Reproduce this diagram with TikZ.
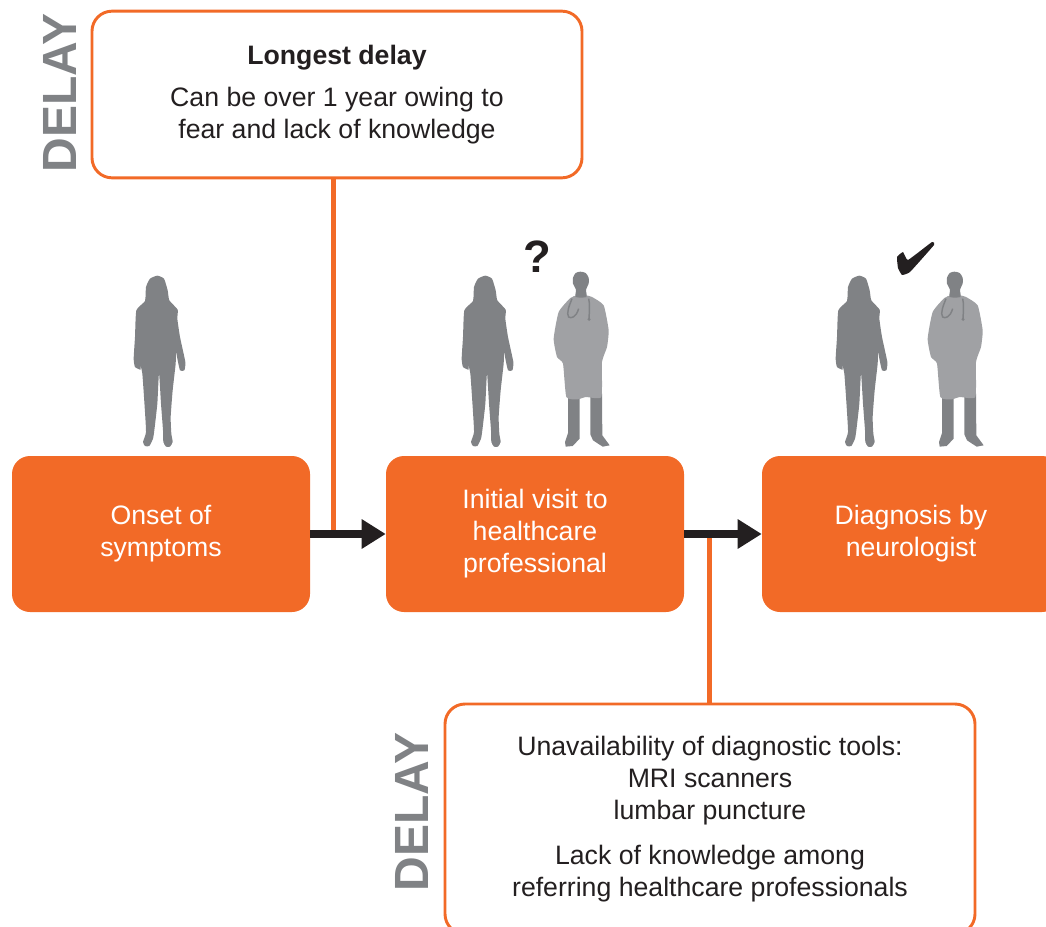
\documentclass[tikz,border=0pt]{standalone}
\usepackage{fontspec}
\setmainfont{Liberation Sans}
\usetikzlibrary{positioning}
\usetikzlibrary{arrows.meta}
\definecolor{delayorange}{HTML}{F26A27}
\definecolor{delaygray}{HTML}{808285}
\definecolor{womangray}{HTML}{808285}
\definecolor{coatgray}{HTML}{A0A1A4}
\definecolor{markblack}{HTML}{231F20}
\tikzset{
  stagebox/.style={rectangle,rounded corners=13.5pt,fill=delayorange,text=white,align=center,
    minimum width=223.5pt,minimum height=117pt,inner sep=0pt,font=\fontsize{20}{24}\selectfont},
  notebox/.style={rectangle,rounded corners=15pt,draw=delayorange,line width=2.2pt,fill=white,text=markblack,
    align=center,inner sep=0pt,font=\fontsize{20}{24}\selectfont},
  delaylabel/.style={rotate=90,text=delaygray,inner sep=0pt,font=\fontsize{36}{36}\selectfont\bfseries},
  stemline/.style={delayorange,line width=3.75pt},
  stagearrow/.style={markblack,line width=6.5pt,-{Triangle[length=18pt,width=21pt]}}
}
% woman and doctor are traced at three times their size, the origin is between the feet
\newcommand{\womanfig}[2]{%
\begin{scope}[shift={(#1,#2)},scale=1/3]
 \fill[womangray] plot[smooth cycle,tension=0.3] coordinates {(-8,-514)(12,-505)(23,-470)(28,-440)(53,-412)(52,-385)(60,-330)(76,-255)(73,-230)(60,-230)(52,-265)(48,-285)(47,-250)(38,-170)(32,-90)(34,-40)(38,-15)(30,-1)(18,-1)(10,-15)(9,-50)(3,-130)(-3,-222)(-8,-130)(-17,-50)(-21,-25)(-32,-3)(-45,-3)(-51,-15)(-42,-45)(-46,-120)(-53,-220)(-60,-250)(-58,-232)(-75,-240)(-79,-265)(-75,-330)(-71,-410)(-45,-438)(-42,-480)(-30,-505)};
\end{scope}}
\newcommand{\doctorfig}[2]{%
\begin{scope}[shift={(#1,#2)},scale=1/3]
 % legs and shoes
 \fill[womangray] (-39,-160) -- (-39,-42) -- (-48,-15) -- (-46,-1) -- (-25,-3) -- (-4,-25) -- (-4,-160) -- cycle;
 \fill[womangray] (28,-160) -- (28,-38) -- (36,-20) -- (65,-1) -- (86,-5) -- (64,-35) -- (63,-160) -- cycle;
 % coat
 \fill[coatgray] plot[smooth cycle,tension=0.3] coordinates {(-32,-447)(-12,-455)(15,-455)(33,-450)(68,-425)(83,-350)(78,-300)(63,-255)(61,-150)(15,-150)(-10,-143)(-44,-150)(-54,-250)(-72,-270)(-82,-325)(-67,-405)};
 % head and neck
 \fill[womangray] plot[smooth cycle,tension=0.4] coordinates {(-2,-526)(14,-522)(23,-508)(23,-490)(15,-472)(16,-450)(-16,-450)(-15,-472)(-24,-490)(-24,-508)(-16,-522)};
 % stethoscope
 \draw[womangray,line width=1.1pt] (-27,-445) .. controls (-35,-425) and (-45,-400) .. (-37,-390) .. controls (-30,-385) and (-15,-388) .. (-7,-415);
 \draw[womangray,line width=1.1pt] (23,-445) .. controls (27,-430) and (25,-405) .. (24,-385);
 \fill[womangray] (24,-383) circle (5);
\end{scope}}
\begin{document}
\begin{tikzpicture}[x=0.75pt,y=0.75pt,yscale=-1,xscale=1]
  \useasboundingbox (0,0) rectangle (1046,927);
  \clip (0,0) rectangle (1046,927);
  %Draw the boxes of the three stages
  \node[stagebox] (onset) at (161,534) {\raisebox{1.5pt}{Onset of}\\\raisebox{1.5pt}{symptoms}};
  \node[stagebox] (visit) at (535,534) {\raisebox{1.5pt}{Initial visit to}\\\raisebox{1.5pt}{healthcare}\\\raisebox{1.5pt}{professional}};
  \node[stagebox] (diagnosis) at (911,534) {\raisebox{1.5pt}{Diagnosis by}\\\raisebox{1.5pt}{neurologist}};
  %Draw the boxes of the delays
  \node[notebox,minimum width=367.5pt,minimum height=125pt] (longest) at (337,94.5) {{\bfseries Longest delay}\\[7pt]Can be over 1 year owing to\\fear and lack of knowledge};
  \node[notebox,minimum width=397.5pt,minimum height=172.5pt] (tools) at (710,819) {Unavailability of diagnostic tools:\\MRI scanners\\lumbar puncture\\[10pt]Lack of knowledge among\\referring healthcare professionals};
  \node[delaylabel] (delaytop) at (60,93) {DELAY};
  \node[delaylabel] (delaybottom) at (412,812) {DELAY};
  %Draw the stems
  \coordinate (stemtop) at (longest.south -| 333,0);
  \coordinate (stemleft) at (333,533);
  \coordinate (stemright) at (709,533);
  \coordinate (stembottom) at (tools.north -| 709,0);
  \draw[stemline] (stemtop) -- (stemleft);
  \draw[stemline] (stemright) -- (stembottom);
  %Draw the arrows
  \draw[stagearrow] (onset) -- (visit);
  \draw[stagearrow] (visit) -- (diagnosis);
  %Draw the figures
  \womanfig{160}{447}
  \womanfig{488}{447}
  \doctorfig{581}{447}
  \womanfig{862}{447}
  \doctorfig{955}{447}
  %Draw the marks
  \node[text=markblack,inner sep=0pt,font=\fontsize{34}{34}\selectfont\bfseries] (question) at (537,257) {?};
  \fill[markblack] plot[smooth cycle,tension=0.2] coordinates {(897,257)(903,252)(908,260)(932,242)(934,245)(910,272)(902,275)(898,268)};
\end{tikzpicture}
\end{document}
